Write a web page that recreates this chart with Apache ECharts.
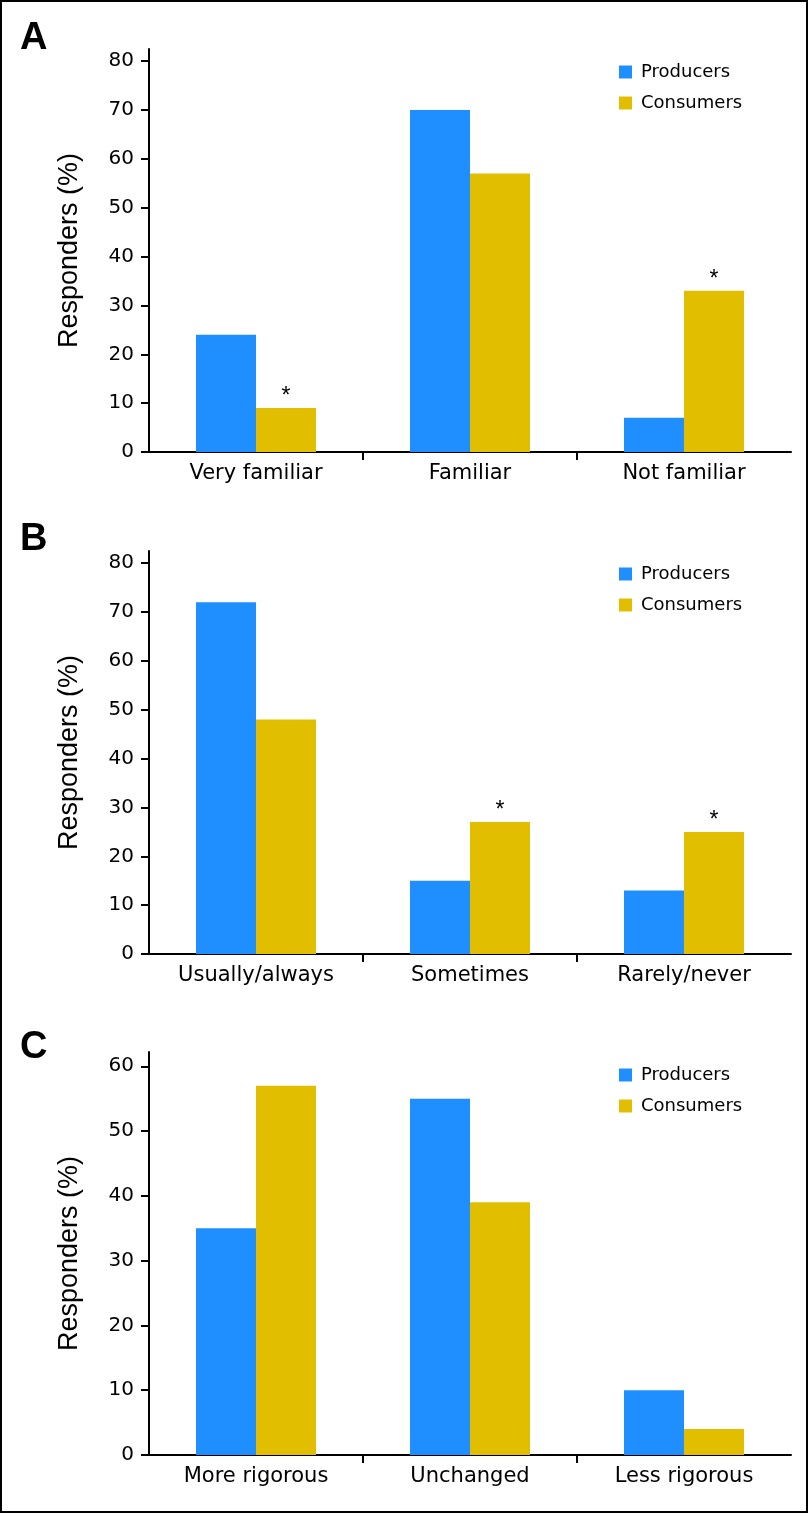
<!DOCTYPE html>
<html>
<head>
<meta charset="utf-8">
<script src="https://cdn.jsdelivr.net/npm/echarts@6/dist/echarts.min.js"></script>
<style>
  html, body { margin: 0; padding: 0; background: #fff; }
  #chart { width: 809px; height: 1514px; }
</style>
</head>
<body>
<div id="chart"></div>
<script>
const categoriesA = ['Very familiar', 'Familiar', 'Not familiar'];
const categoriesB = ['Usually/always', 'Sometimes', 'Rarely/never'];
const categoriesC = ['More rigorous', 'Unchanged', 'Less rigorous'];
const producersA = [24, 70, 7];
const consumersA = [9, 57, 33];
const producersB = [72, 15, 13];
const consumersB = [48, 27, 25];
const producersC = [35, 55, 10];
const consumersC = [57, 39, 4];
const significantA = [true, false, true];
const significantB = [false, true, true];
const significantC = [false, false, false];
const yTicksAB = [0, 10, 20, 30, 40, 50, 60, 70, 80];
const yTicksC = [0, 10, 20, 30, 40, 50, 60];
const categoryBoundaries = [1, 2];
const panelLetters = ['A', 'B', 'C'];
const seriesNames = ['Producers', 'Consumers'];
const yAxisTitle = 'Responders (%)';

const BLUE = '#1F8FFF';
const GOLD = '#E2BE00';
const FONT = 'DejaVu Sans';

const panels = [
  { cats: categoriesA, prod: producersA, cons: consumersA, sig: significantA, ticks: yTicksAB, max: 82.5, top: 49, letterTop: 20 },
  { cats: categoriesB, prod: producersB, cons: consumersB, sig: significantB, ticks: yTicksAB, max: 82.5, top: 551, letterTop: 521 },
  { cats: categoriesC, prod: producersC, cons: consumersC, sig: significantC, ticks: yTicksC, max: 62.2, top: 1052, letterTop: 1029 }
];

const grid = [], xAxis = [], yAxis = [], series = [], legend = [], title = [];
panels.forEach((p, i) => {
  grid.push({ left: 149, width: 642, top: p.top, height: 403 });
  title.push({
    text: panelLetters[i], left: 20, top: p.letterTop, padding: 0,
    textStyle: { fontFamily: 'Liberation Sans', fontWeight: 'bold', fontSize: 38, color: '#000' }
  });
  // category axis with labels and the axis line
  xAxis.push({
    type: 'category', gridIndex: i, data: p.cats, position: 'bottom',
    axisLine: { lineStyle: { color: '#000', width: 2 } },
    axisTick: { show: false },
    axisLabel: { color: '#000', fontFamily: FONT, fontSize: 21, margin: 11 },
    splitLine: { show: false }
  });
  // helper value axis only for the ticks between categories
  xAxis.push({
    type: 'value', gridIndex: i, min: 0, max: p.cats.length, position: 'bottom',
    axisLine: { show: false },
    axisTick: { show: true, length: 8, lineStyle: { color: '#000', width: 2 }, customValues: categoryBoundaries },
    axisLabel: { show: false },
    splitLine: { show: false }
  });
  yAxis.push({
    type: 'value', gridIndex: i, min: 0, max: p.max,
    name: yAxisTitle, nameLocation: 'middle', nameGap: 66,
    nameTextStyle: { fontFamily: 'Liberation Sans', fontSize: 27, color: '#000' },
    axisLine: { show: true, lineStyle: { color: '#000', width: 2 } },
    axisTick: { show: true, length: 8, lineStyle: { color: '#000', width: 2 }, customValues: p.ticks },
    axisLabel: { color: '#000', fontFamily: FONT, fontSize: 20, margin: 15, customValues: p.ticks },
    splitLine: { show: false }
  });
  legend.push({
    orient: 'vertical', left: 619, top: p.top + 14, padding: 0,
    itemWidth: 13, itemHeight: 13, itemGap: 13, icon: 'rect',
    data: seriesNames,
    textStyle: { fontFamily: FONT, fontSize: 18, color: '#000', padding: [0, 0, 0, 4] }
  });
  series.push({
    name: seriesNames[0], type: 'bar', xAxisIndex: i * 2, yAxisIndex: i,
    data: p.prod, barWidth: 60, barGap: '0%',
    itemStyle: { color: BLUE }
  });
  series.push({
    name: seriesNames[1], type: 'bar', xAxisIndex: i * 2, yAxisIndex: i,
    data: p.cons, barWidth: 60, barGap: '0%',
    itemStyle: { color: GOLD },
    label: {
      show: true, position: 'top', distance: 0,
      fontFamily: 'Liberation Sans', fontSize: 23, color: '#000',
      formatter: (q) => p.sig[q.dataIndex] ? '*' : ''
    }
  });
});

const chart = echarts.init(document.getElementById('chart'), null, { renderer: 'canvas' });
chart.setOption({
  animation: false,
  backgroundColor: '#fff',
  title, grid, xAxis, yAxis, legend, series,
  graphic: [{
    type: 'rect', shape: { x: 1, y: 1, width: 806, height: 1511 },
    style: { fill: null, stroke: '#000', lineWidth: 2 }, z: 100
  }]
});
</script>
</body>
</html>
